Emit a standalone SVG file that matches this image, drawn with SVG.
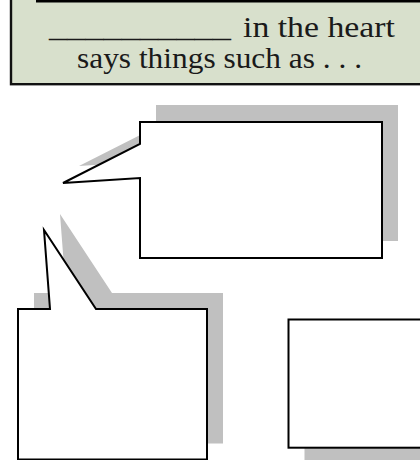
<svg xmlns="http://www.w3.org/2000/svg" width="420" height="460" viewBox="0 0 420 460">
  <style>
    .title { fill: #d8e0cc; stroke: #111; stroke-width: 2.4; }
    .bubble { fill: #ffffff; stroke: #000; stroke-width: 2; stroke-linejoin: miter; }
    .shadow { fill: #c0c0c0; stroke: none; }
    .txt { font-family: "Liberation Serif", "DejaVu Serif", serif; font-size: 29.5px; fill: #1a1a1a; }
  </style>
  <rect width="420" height="460" fill="#ffffff"/>

  <g id="title-box">
    <rect class="title" x="11" y="-10" width="420" height="94.2"/>
    <rect x="36" y="0" width="384" height="2.5" fill="#000"/>
    <text class="txt" x="49" y="37" textLength="182" lengthAdjust="spacingAndGlyphs">__________</text>
    <text class="txt" x="243" y="37" textLength="152" lengthAdjust="spacingAndGlyphs">in the heart</text>
    <text class="txt" x="77" y="68" textLength="285" lengthAdjust="spacingAndGlyphs">says things such as . . .</text>
  </g>

  <g id="callout-top">
    <path class="shadow" transform="translate(16,-17)" d="M140,122 H382 V258 H140 V178 L63,183 L140,144 Z"/>
    <path class="bubble" d="M140,122 H382 V258 H140 V178 L63,183 L140,144 Z"/>
  </g>

  <g id="callout-left">
    <path class="shadow" transform="translate(16,-16)" d="M18,309 H50 L44,230 L96,309 H207 V459.5 H18 Z"/>
    <path class="bubble" d="M18,309 H50 L44,230 L96,309 H207 V459.5 H18 Z"/>
  </g>

  <g id="box-right">
    <rect class="shadow" x="304.5" y="335.5" width="140" height="128"/>
    <rect class="bubble" x="288.5" y="319.5" width="150" height="128.2"/>
  </g>
</svg>
